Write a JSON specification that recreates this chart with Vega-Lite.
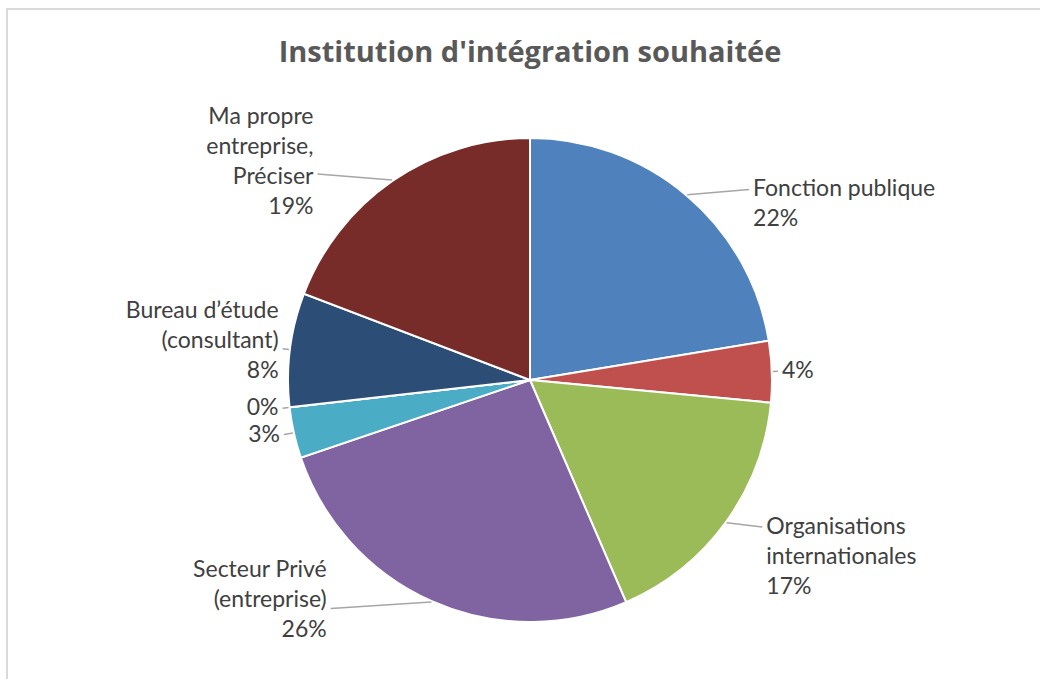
{
  "$schema": "https://vega.github.io/schema/vega-lite/v6.json",
  "width": 1040,
  "height": 700,
  "autosize": {"type": "none"},
  "padding": {"left": 7, "top": 9, "right": 0, "bottom": 0},
  "background": "white",
  "config": {"view": {"stroke": "#d9d9d9", "strokeWidth": 2}, "font": "Lato"},
  "title": {
    "text": "Institution d'intégration souhaitée",
    "font": "Open Sans",
    "fontSize": 29,
    "fontWeight": "bold",
    "color": "#595959",
    "anchor": "middle",
    "frame": "group",
    "offset": -59,
    "dx": 3
  },
  "data": {
    "values": [
      {"idx": 1, "categorie": "Fonction publique", "value": 22.4, "label": "Fonction publique\n22%"},
      {"idx": 2, "categorie": "Autre", "value": 4.1, "label": "4%"},
      {"idx": 3, "categorie": "Organisations internationales", "value": 17.0, "label": "Organisations\ninternationales\n17%"},
      {"idx": 4, "categorie": "Secteur Privé (entreprise)", "value": 26.3, "label": "Secteur Privé\n(entreprise)\n26%"},
      {"idx": 5, "categorie": "Autre 2", "value": 3.4, "label": "3%"},
      {"idx": 6, "categorie": "Autre 3", "value": 0, "label": "0%"},
      {"idx": 7, "categorie": "Bureau d’étude (consultant)", "value": 7.6, "label": "Bureau d’étude\n(consultant)\n8%"},
      {"idx": 8, "categorie": "Ma propre entreprise, Préciser", "value": 19.2, "label": "Ma propre\nentreprise,\nPréciser\n19%"}
    ]
  },
  "transform": [
    {"joinaggregate": [{"op": "sum", "field": "value", "as": "tot"}]},
    {"window": [{"op": "sum", "field": "value", "as": "cum"}], "sort": [{"field": "idx"}], "frame": [null, 0]},
    {"calculate": "2*PI*(datum.cum - datum.value/2)/datum.tot", "as": "a"},
    {"calculate": "sin(datum.a)", "as": "s"},
    {"calculate": "cos(datum.a)", "as": "c"},
    {"calculate": "length(split(datum.label, '\\n'))", "as": "n"},
    {"calculate": "243*datum.s", "as": "px"},
    {"calculate": "243*datum.c", "as": "py"},
    {"calculate": "(datum.s > 0 ? 1 : -1) * (170 + 82*abs(datum.s))", "as": "lx"},
    {"calculate": "datum.lx + (datum.s > 0 ? -4 : 4)", "as": "ex"},
    {"calculate": "250*datum.c", "as": "ly"},
    {"calculate": "datum.s > 0 ? datum.ly : datum.ly + (datum.n - 1)*19", "as": "ty"}
  ],
  "layer": [
    {
      "mark": {"type": "arc", "outerRadius": 242, "stroke": "white", "strokeWidth": 2},
      "encoding": {
        "theta": {"field": "value", "type": "quantitative", "stack": true},
        "order": {"field": "idx", "type": "quantitative"},
        "color": {
          "field": "categorie",
          "type": "nominal",
          "scale": {
            "domain": ["Fonction publique", "Autre", "Organisations internationales", "Secteur Privé (entreprise)", "Autre 2", "Autre 3", "Bureau d’étude (consultant)", "Ma propre entreprise, Préciser"],
            "range": ["#4F81BD", "#C0504D", "#9BBB59", "#8064A2", "#4BACC6", "#F79646", "#2C4D75", "#772C2A"]
          },
          "legend": null
        },
        "x": {"datum": 0, "type": "quantitative", "scale": {"domain": [-523, 517], "nice": false, "zero": false}, "axis": null},
        "y": {"datum": 0, "type": "quantitative", "scale": {"domain": [-329, 371], "nice": false, "zero": false}, "axis": null}
      }
    },
    {
      "mark": {"type": "rule", "color": "#a6a6a6", "strokeWidth": 1.5},
      "encoding": {
        "x": {"field": "px", "type": "quantitative", "scale": {"domain": [-523, 517], "nice": false, "zero": false}, "axis": null},
        "y": {"field": "py", "type": "quantitative", "scale": {"domain": [-329, 371], "nice": false, "zero": false}, "axis": null},
        "x2": {"field": "ex"},
        "y2": {"field": "ly"}
      }
    },
    {
      "transform": [{"filter": "datum.s > 0"}],
      "mark": {"type": "text", "align": "left", "baseline": "middle", "lineBreak": "\n", "lineHeight": 30, "fontSize": 23, "font": "Lato", "color": "#404040"},
      "encoding": {
        "x": {"field": "lx", "type": "quantitative", "scale": {"domain": [-523, 517], "nice": false, "zero": false}, "axis": null},
        "y": {"field": "ty", "type": "quantitative", "scale": {"domain": [-329, 371], "nice": false, "zero": false}, "axis": null},
        "text": {"field": "label"}
      }
    },
    {
      "transform": [{"filter": "datum.s <= 0"}],
      "mark": {"type": "text", "align": "right", "baseline": "middle", "lineBreak": "\n", "lineHeight": 30, "fontSize": 23, "font": "Lato", "color": "#404040"},
      "encoding": {
        "x": {"field": "lx", "type": "quantitative", "scale": {"domain": [-523, 517], "nice": false, "zero": false}, "axis": null},
        "y": {"field": "ty", "type": "quantitative", "scale": {"domain": [-329, 371], "nice": false, "zero": false}, "axis": null},
        "text": {"field": "label"}
      }
    }
  ]
}
